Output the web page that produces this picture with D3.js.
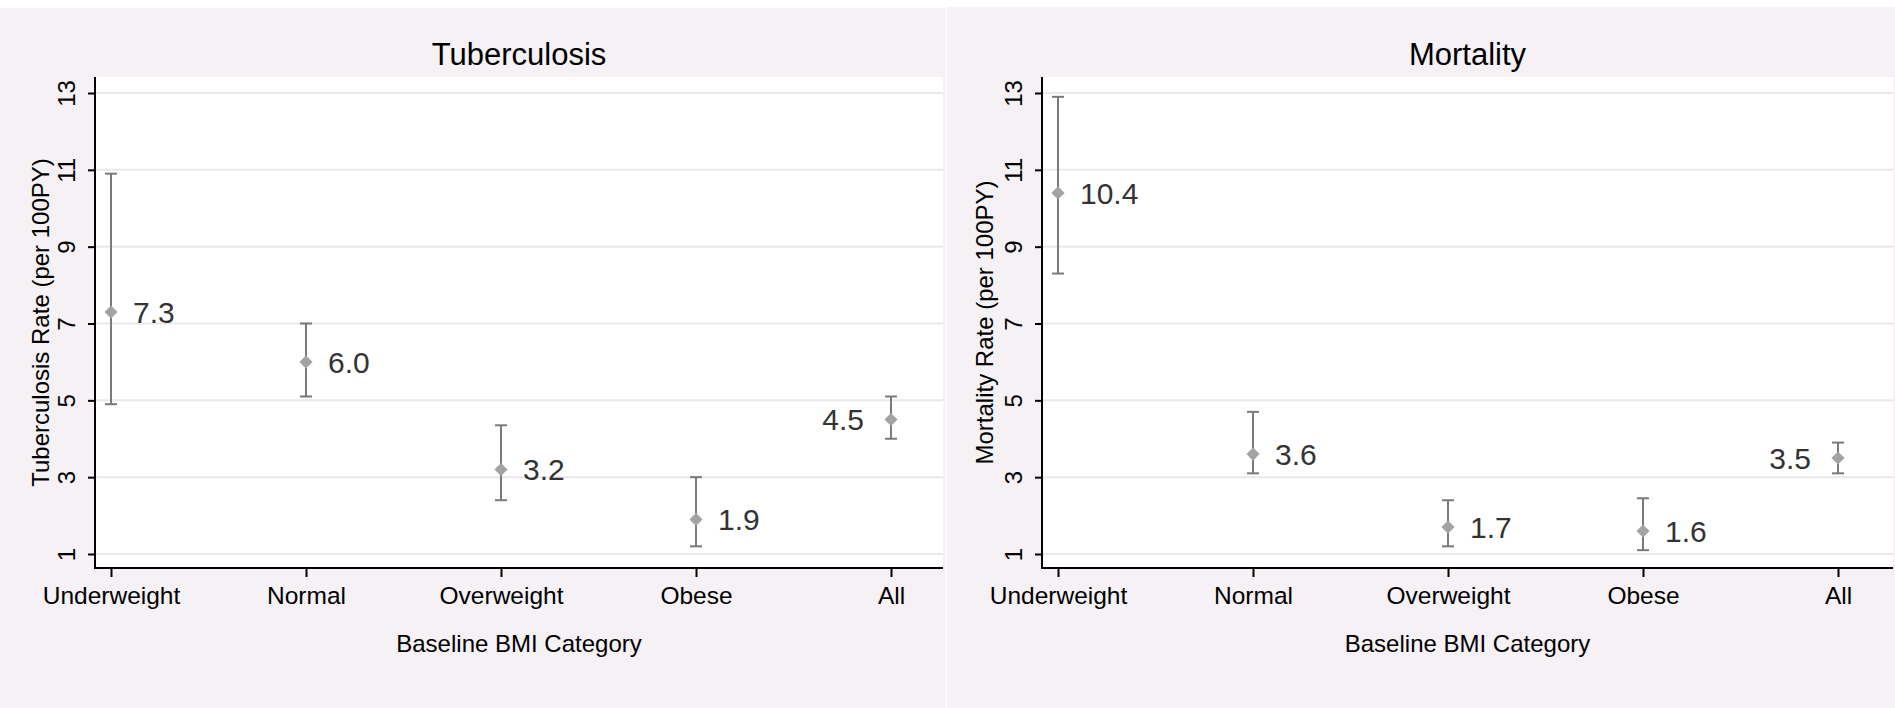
<!DOCTYPE html>
<html>
<head>
<meta charset="utf-8">
<script src="https://cdn.jsdelivr.net/npm/d3@7"></script>
<style>
  body { margin: 0; background: #fff; }
  svg text { font-family: 'Liberation Sans', Arial, sans-serif; }
</style>
</head>
<body>
<div id="vis"></div>
<script>
// categories and estimates
var categories = ['Underweight', 'Normal', 'Overweight', 'Obese', 'All'];
var yTicks = [1, 3, 5, 7, 9, 11, 13];

var tbRate  = [7.3, 6.0, 3.2, 1.9, 4.5];
var tbLower = [4.9, 5.1, 2.4, 1.2, 4.0];
var tbUpper = [10.9, 7.0, 4.35, 3.0, 5.1];

var mortRate  = [10.4, 3.6, 1.7, 1.6, 3.5];
var mortLower = [8.3, 3.1, 1.2, 1.1, 3.1];
var mortUpper = [12.9, 4.7, 2.4, 2.45, 3.9];

var width = 1895;
var height = 708;

var svg = d3.select('#vis')
  .append('svg')
  .attr('width', width)
  .attr('height', height);

function panel(opts) {
  var g = svg.append('g').attr('transform', 'translate(' + opts.left + ',0)');

  // grey stata background
  g.append('rect')
    .attr('x', 0).attr('y', opts.top)
    .attr('width', opts.w).attr('height', height - opts.top)
    .attr('fill', '#f5f1f5');

  var plot = { x0: 95, x1: opts.plotRight, y0: 77, y1: 568 };

  g.append('rect')
    .attr('x', plot.x0).attr('y', plot.y0)
    .attr('width', plot.x1 - plot.x0).attr('height', plot.y1 - plot.y0)
    .attr('fill', '#fff');

  var x = d3.scalePoint().domain(categories).range([111, 111 + 195 * 4]);
  var y = d3.scaleLinear().domain([1, 13]).range([554, 93]);

  // gridlines
  g.selectAll('.grid')
    .data(yTicks)
    .enter().append('line')
    .attr('class', 'grid')
    .attr('x1', plot.x0).attr('x2', plot.x1)
    .attr('y1', function (d) { return y(d); })
    .attr('y2', function (d) { return y(d); })
    .attr('stroke', '#ece7ec')
    .attr('stroke-width', 2);

  // y axis
  var yAxis = g.append('g')
    .attr('transform', 'translate(' + plot.x0 + ',0)')
    .call(d3.axisLeft(y).tickValues(yTicks).tickSize(7).tickFormat(d3.format('d')));
  yAxis.select('.domain').remove();
  yAxis.selectAll('line').attr('stroke', '#000').attr('stroke-width', 2);
  yAxis.selectAll('text')
    .attr('transform', 'rotate(-90)')
    .attr('x', 0).attr('y', -20).attr('dy', 0)
    .attr('text-anchor', 'middle')
    .attr('fill', '#000')
    .style('font-size', '24px');

  // x axis
  var xAxis = g.append('g')
    .attr('transform', 'translate(0,' + plot.y1 + ')')
    .call(d3.axisBottom(x).tickSize(9).tickPadding(10));
  xAxis.select('.domain').remove();
  xAxis.selectAll('line').attr('stroke', '#000').attr('stroke-width', 2);
  xAxis.selectAll('text').attr('fill', '#000').style('font-size', '24.5px');

  // axis lines
  g.append('line')
    .attr('x1', plot.x0).attr('x2', plot.x0)
    .attr('y1', plot.y0).attr('y2', plot.y1 + 1)
    .attr('stroke', '#000').attr('stroke-width', 2);
  g.append('line')
    .attr('x1', plot.x0 - 1).attr('x2', plot.x1)
    .attr('y1', plot.y1).attr('y2', plot.y1)
    .attr('stroke', '#000').attr('stroke-width', 2);

  // titles
  var cx = (plot.x0 + plot.x1) / 2;
  g.append('text')
    .attr('x', cx).attr('y', 65)
    .attr('text-anchor', 'middle')
    .style('font-size', '31px')
    .text(opts.title);

  g.append('text')
    .attr('x', cx).attr('y', 652)
    .attr('text-anchor', 'middle')
    .style('font-size', '24px')
    .text('Baseline BMI Category');

  g.append('text')
    .attr('transform', 'translate(' + opts.yTitleX + ',' + ((plot.y0 + plot.y1) / 2) + ') rotate(-90)')
    .attr('text-anchor', 'middle')
    .style('font-size', '24px')
    .text(opts.yTitle);

  var rows = categories.map(function (c, i) {
    return { cat: c, rate: opts.rate[i], lo: opts.lower[i], hi: opts.upper[i] };
  });

  // error bars
  var bars = g.selectAll('.ci')
    .data(rows)
    .enter().append('g')
    .attr('class', 'ci')
    .attr('stroke', '#7a7a7a')
    .attr('stroke-width', 2);

  bars.append('line')
    .attr('x1', function (d) { return x(d.cat); })
    .attr('x2', function (d) { return x(d.cat); })
    .attr('y1', function (d) { return y(d.lo); })
    .attr('y2', function (d) { return y(d.hi); });
  bars.append('line')
    .attr('x1', function (d) { return x(d.cat) - 6; })
    .attr('x2', function (d) { return x(d.cat) + 6; })
    .attr('y1', function (d) { return y(d.lo); })
    .attr('y2', function (d) { return y(d.lo); });
  bars.append('line')
    .attr('x1', function (d) { return x(d.cat) - 6; })
    .attr('x2', function (d) { return x(d.cat) + 6; })
    .attr('y1', function (d) { return y(d.hi); })
    .attr('y2', function (d) { return y(d.hi); });

  // diamond markers
  g.selectAll('.pt')
    .data(rows)
    .enter().append('path')
    .attr('class', 'pt')
    .attr('d', d3.symbol().type(d3.symbolDiamond2).size(110))
    .attr('transform', function (d) { return 'translate(' + x(d.cat) + ',' + y(d.rate) + ')'; })
    .attr('fill', '#a3a3a3');

  // value labels, the pooled one sits on the left
  g.selectAll('.val')
    .data(rows)
    .enter().append('text')
    .attr('class', 'val')
    .attr('x', function (d) { return d.cat === 'All' ? x(d.cat) - 27 : x(d.cat) + 22; })
    .attr('y', function (d) { return y(d.rate); })
    .attr('dy', '0.36em')
    .attr('text-anchor', function (d) { return d.cat === 'All' ? 'end' : 'start'; })
    .attr('fill', '#333')
    .style('font-size', '30px')
    .text(function (d) { return d3.format('.1f')(d.rate); });
}

panel({
  left: 0, top: 8, w: 946, plotRight: 943,
  title: 'Tuberculosis',
  yTitle: 'Tuberculosis Rate (per 100PY)', yTitleX: 49,
  rate: tbRate, lower: tbLower, upper: tbUpper
});

panel({
  left: 947, top: 7, w: 948, plotRight: 946,
  title: 'Mortality',
  yTitle: 'Mortality Rate (per 100PY)', yTitleX: 46,
  rate: mortRate, lower: mortLower, upper: mortUpper
});
</script>
</body>
</html>
